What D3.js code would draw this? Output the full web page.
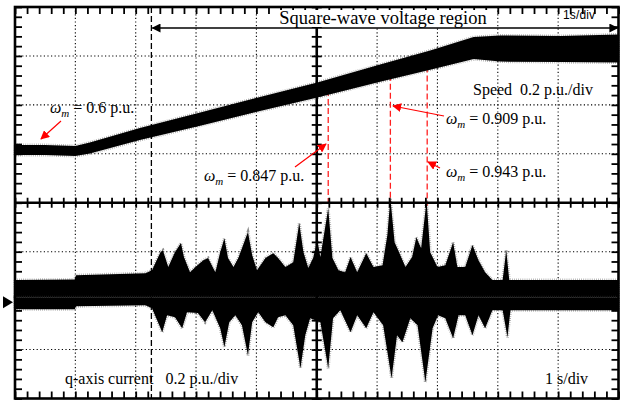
<!DOCTYPE html>
<html>
<head>
<meta charset="utf-8">
<script src="https://cdn.jsdelivr.net/npm/d3@7"></script>
<style>
  body { margin: 0; background: #fff; }
</style>
</head>
<body>
<div id="scope"></div>
<script>
// screen size and frame of the scope picture
var width = 629, height = 401;
var frame = {left: 15, right: 618.5, top: 7, bottom: 398.5};
var serif = "Liberation Serif";

// speed trace (band), time in s, speed in p.u.
var speedT  = [0, 0.5, 1.0, 1.24, 2.07, 3.07, 4.06, 5.01, 6.05, 6.88, 7.60, 8.04, 9.04, 10];
var speedHi = [0.622, 0.622, 0.618, 0.632, 0.691, 0.755, 0.818, 0.877, 0.951, 1.008, 1.063, 1.070, 1.067, 1.074];
var speedLo = [0.581, 0.581, 0.577, 0.587, 0.642, 0.701, 0.761, 0.816, 0.881, 0.930, 0.973, 0.963, 0.961, 0.959];

// q-axis current, upper envelope (time s, p.u.)
var curTopT = [0, 0.99, 1.01, 2.16, 2.27, 2.41, 2.45, 2.54, 2.65, 2.75, 2.80, 2.90, 2.99, 3.12, 3.20, 3.32, 3.40, 3.47, 3.53, 3.62,
  3.70, 3.78, 3.86, 3.93, 4.01, 4.15, 4.23, 4.28, 4.36, 4.48, 4.61, 4.71, 4.78, 4.86, 4.94, 5.01, 5.06, 5.19, 5.26, 5.36,
  5.47, 5.56, 5.67, 5.82, 5.94, 6.09, 6.17, 6.22, 6.29, 6.35, 6.47, 6.58, 6.65, 6.73, 6.82, 6.88, 7.00, 7.13, 7.26, 7.33,
  7.46, 7.58, 7.68, 7.79, 7.91, 8.08, 8.14, 8.19, 10];
var curTopV = [0.070, 0.072, 0.090, 0.098, 0.110, 0.184, 0.192, 0.123, 0.184, 0.221, 0.164, 0.102, 0.123, 0.151, 0.160, 0.102, 0.184, 0.241, 0.160, 0.123,
  0.160, 0.213, 0.266, 0.172, 0.110, 0.160, 0.172, 0.180, 0.160, 0.123, 0.143, 0.303, 0.184, 0.119, 0.160, 0.233, 0.164, 0.364, 0.160, 0.110,
  0.102, 0.164, 0.102, 0.180, 0.123, 0.131, 0.254, 0.405, 0.225, 0.192, 0.123, 0.164, 0.245, 0.200, 0.397, 0.184, 0.123, 0.131, 0.225, 0.123,
  0.123, 0.213, 0.151, 0.102, 0.070, 0.070, 0.192, 0.070, 0.070];

// q-axis current, lower envelope (time s, p.u.)
var curBotT = [0, 0.99, 1.01, 2.16, 2.27, 2.44, 2.52, 2.65, 2.77, 2.85, 3.03, 3.15, 3.27, 3.40, 3.47, 3.55, 3.65, 3.76, 3.86, 3.93,
  4.03, 4.15, 4.28, 4.36, 4.48, 4.61, 4.73, 4.81, 4.89, 5.06, 5.19, 5.27, 5.39, 5.56, 5.67, 5.82, 5.94, 6.10, 6.24, 6.33,
  6.42, 6.55, 6.67, 6.80, 6.92, 7.01, 7.13, 7.26, 7.35, 7.46, 7.58, 7.68, 7.79, 7.91, 8.08, 8.16, 8.21, 10];
var curBotV = [-0.049, -0.049, -0.037, -0.033, -0.045, -0.143, -0.074, -0.082, -0.127, -0.061, -0.065, -0.102, -0.053, -0.127, -0.204, -0.102, -0.074, -0.115, -0.237, -0.102,
  -0.061, -0.102, -0.123, -0.082, -0.074, -0.115, -0.290, -0.155, -0.086, -0.102, -0.290, -0.086, -0.053, -0.143, -0.074, -0.127, -0.061, -0.115, -0.331, -0.155,
  -0.184, -0.086, -0.115, -0.348, -0.127, -0.074, -0.086, -0.168, -0.074, -0.074, -0.155, -0.074, -0.127, -0.053, -0.053, -0.164, -0.053, -0.053];

// marked instants (s) and the speeds written next to them
var regionStart = 2.26;
var markT = [5.19, 6.22, 6.83];
var markSpeed = [0.847, 0.909, 0.943];

var svg = d3.select("#scope")
  .append("svg")
    .attr("width", width)
    .attr("height", height);

var defs = svg.append("defs");
defs.append("marker").attr("id", "redHead")
    .attr("viewBox", "0 0 10 10").attr("refX", 9).attr("refY", 5)
    .attr("markerWidth", 9).attr("markerHeight", 9).attr("markerUnits", "userSpaceOnUse")
    .attr("orient", "auto")
  .append("path").attr("d", "M0,0L10,5L0,10Z").attr("fill", "#ff0000");
defs.append("marker").attr("id", "blackHead")
    .attr("viewBox", "0 0 10 10").attr("refX", 9).attr("refY", 5)
    .attr("markerWidth", 12).attr("markerHeight", 9).attr("markerUnits", "userSpaceOnUse")
    .attr("orient", "auto-start-reverse")
  .append("path").attr("d", "M0,0L10,5L0,10Z").attr("fill", "#000");

// scales: 10 s across, 8 divisions up, 0.2 p.u. per division
var x = d3.scaleLinear().domain([0, 10]).range([frame.left, frame.right]);
var gy = d3.scaleLinear().domain([-4, 4]).range([frame.bottom, frame.top]);
var y = d3.scaleLinear().domain([-0.414, 1.186]).range([frame.bottom, frame.top]);

// dotted grid
svg.append("g").selectAll("line")
  .data(d3.range(1, 10).filter(function(d) { return d != 5; }))
  .enter().append("line")
    .attr("x1", function(d) { return x(d); }).attr("x2", function(d) { return x(d); })
    .attr("y1", frame.top).attr("y2", frame.bottom)
    .attr("stroke", "#000").attr("stroke-width", 1.1).attr("stroke-dasharray", "1.2,2.4");
svg.append("g").selectAll("line")
  .data([-3, -2, -1, 1, 2, 3])
  .enter().append("line")
    .attr("y1", function(d) { return gy(d); }).attr("y2", function(d) { return gy(d); })
    .attr("x1", frame.left).attr("x2", frame.right)
    .attr("stroke", "#000").attr("stroke-width", 1.1).attr("stroke-dasharray", "1.2,2.4");

// red dashed markers (drawn under the trace)
svg.append("g").selectAll("line")
  .data(markT)
  .enter().append("line")
    .attr("x1", function(d) { return x(d); }).attr("x2", function(d) { return x(d); })
    .attr("y1", function(d, i) { return y(markSpeed[i]); })
    .attr("y2", gy(0) + 3)
    .attr("stroke", "#ff2020").attr("stroke-width", 1.3).attr("stroke-dasharray", "6,3");

// start of square-wave region
svg.append("line")
    .attr("x1", x(regionStart)).attr("x2", x(regionStart))
    .attr("y1", frame.top).attr("y2", frame.bottom)
    .attr("stroke", "#000").attr("stroke-width", 1.3).attr("stroke-dasharray", "6,3");

// traces
var speedData = speedT.map(function(t, i) { return {t: t, hi: speedHi[i], lo: speedLo[i]}; });
var speedArea = d3.area()
    .x(function(d) { return x(d.t); })
    .y0(function(d) { return y(d.lo); })
    .y1(function(d) { return y(d.hi); });

var topData = curTopT.map(function(t, i) { return {t: t, v: curTopV[i]}; });
var botData = curBotT.map(function(t, i) { return {t: t, v: curBotV[i]}; });
var halfArea = d3.area()
    .x(function(d) { return x(d.t); })
    .y0(y(0))
    .y1(function(d) { return y(d.v); });

[speedArea(speedData), halfArea(topData), halfArea(botData)].forEach(function(p) {
  // fuzzy edge, then the solid band
  svg.append("path").attr("d", p)
    .attr("fill", "none").attr("stroke", "#444").attr("stroke-width", 3)
    .attr("stroke-dasharray", "0.6,1.5").attr("opacity", 0.6);
  svg.append("path").attr("d", p).attr("fill", "#000");
});

// border ticks through d3 axes
var xMinor = d3.range(0, 10.001, 0.2);
var yMinor = d3.range(-4, 4.001, 0.2);
function styleAxis(g) {
  g.select(".domain").remove();
  g.selectAll(".tick line").attr("stroke", "#000").attr("stroke-width", 1.8);
}
svg.append("g").attr("transform", "translate(0," + frame.top + ")")
  .call(d3.axisBottom(x).tickValues(xMinor).tickSize(7).tickFormat("")).call(styleAxis);
svg.append("g").attr("transform", "translate(0," + frame.bottom + ")")
  .call(d3.axisTop(x).tickValues(xMinor).tickSize(7).tickFormat("")).call(styleAxis);
svg.append("g").attr("transform", "translate(" + frame.left + ",0)")
  .call(d3.axisRight(gy).tickValues(yMinor).tickSize(7).tickFormat("")).call(styleAxis);
svg.append("g").attr("transform", "translate(" + frame.right + ",0)")
  .call(d3.axisLeft(gy).tickValues(yMinor).tickSize(7).tickFormat("")).call(styleAxis);

// centre cross with its ticks
svg.append("g").attr("transform", "translate(0," + (gy(0) - 5) + ")")
  .call(d3.axisBottom(x).tickValues(xMinor).tickSize(10).tickFormat("")).call(styleAxis);
svg.append("g").attr("transform", "translate(" + (x(5) - 5) + ",0)")
  .call(d3.axisRight(gy).tickValues(yMinor).tickSize(10).tickFormat("")).call(styleAxis);
svg.append("line")
    .attr("x1", frame.left).attr("x2", frame.right).attr("y1", gy(0)).attr("y2", gy(0))
    .attr("stroke", "#000").attr("stroke-width", 2.6);
svg.append("line")
    .attr("x1", x(5)).attr("x2", x(5)).attr("y1", frame.top).attr("y2", frame.bottom)
    .attr("stroke", "#000").attr("stroke-width", 2.6);

// frame
svg.append("rect")
    .attr("x", frame.left).attr("y", frame.top)
    .attr("width", frame.right - frame.left).attr("height", frame.bottom - frame.top)
    .attr("fill", "none").attr("stroke", "#000").attr("stroke-width", 2.6);

// ground marker
svg.append("path")
    .attr("d", "M3," + (y(0) - 1) + "L13," + (y(0) + 5) + "L3," + (y(0) + 11) + "Z")
    .attr("fill", "#000");

// serif text helper (non-breaking spaces keep the wide gaps)
function label(px, py, size, str) {
  return svg.append("text")
    .attr("x", px).attr("y", py)
    .attr("font-family", serif)
    .attr("font-size", size)
    .text(str);
}

// square-wave region arrow
svg.append("line")
    .attr("x1", x(regionStart) + 1).attr("x2", frame.right - 1)
    .attr("y1", 28).attr("y2", 28)
    .attr("stroke", "#000").attr("stroke-width", 1.3)
    .attr("marker-start", "url(#blackHead)").attr("marker-end", "url(#blackHead)");
svg.append("rect").attr("x", 276).attr("y", 10).attr("width", 214).attr("height", 17).attr("fill", "#fff");
label(383, 24, 18.5, "Square-wave voltage region").attr("text-anchor", "middle");

svg.append("text")
    .attr("x", 563).attr("y", 19)
    .attr("font-family", "Liberation Sans")
    .attr("font-size", 12)
    .attr("textLength", 32)
    .text("1s/div");

// omega labels
function omegaLabel(px, py, value) {
  var t = label(px, py, 16, null);
  t.append("tspan").attr("font-style", "italic").text("\u03c9");
  t.append("tspan").attr("font-style", "italic").attr("font-size", 11).attr("dy", 4).text("m");
  t.append("tspan").attr("dy", -4).text("\u00a0= " + value + " p.u.");
}
omegaLabel(50, 113, "0.6");
omegaLabel(204, 181, markSpeed[0]);
omegaLabel(446, 124, markSpeed[1]);
omegaLabel(446, 177, markSpeed[2]);

// red pointers
var pointers = [
  [61, 121, 41, 139],
  [295, 167, 326, 144],
  [444, 116, 393, 106],
  [440, 168, 428, 162]
];
svg.append("g").selectAll("line")
  .data(pointers)
  .enter().append("line")
    .attr("x1", function(d) { return d[0]; }).attr("y1", function(d) { return d[1]; })
    .attr("x2", function(d) { return d[2]; }).attr("y2", function(d) { return d[3]; })
    .attr("stroke", "#ff0000").attr("stroke-width", 1.2)
    .attr("marker-end", "url(#redHead)");

label(473, 95, 16, "Speed\u00a0 0.2 p.u./div");
label(65, 384, 16, "q-axis current\u00a0\u00a0 0.2 p.u./div");
label(545, 384, 16, "1 s/div");
</script>
</body>
</html>
